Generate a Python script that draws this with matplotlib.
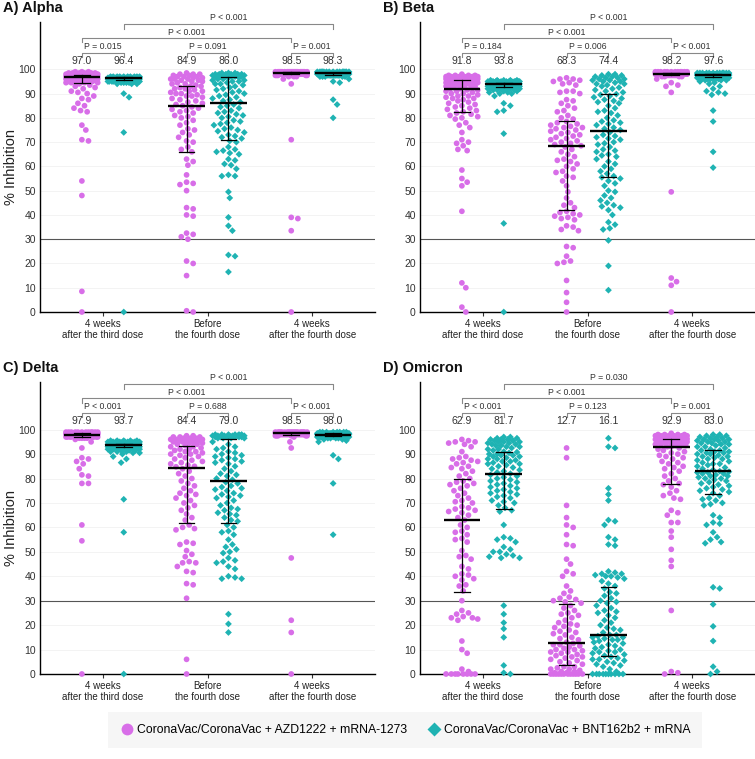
import numpy as np
import matplotlib
matplotlib.use('Agg')
import matplotlib.pyplot as plt
from matplotlib.lines import Line2D

plt.rcParams['font.family'] = ['Liberation Sans', 'DejaVu Sans']

MAG = '#d86ee8'
TEAL = '#1fb3b3'

timepoints = ['4 weeks\nafter the third dose', 'Before\nthe fourth dose', '4 weeks\nafter the fourth dose']
panel_titles = ['A) Alpha', 'B) Beta', 'C) Delta', 'D) Omicron']
legend_labels = ['CoronaVac/CoronaVac + AZD1222 + mRNA-1273', 'CoronaVac/CoronaVac + BNT162b2 + mRNA']

# ---------------- Alpha ----------------
alpha_t3_azd = ([94.5]*4 + [95]*5 + [95.5]*5 + [96]*7 + [96.5]*8 + [97]*10 + [97.5]*12 + [98]*12 + [98.5]*6 + [99]*3 +
                [94, 93.5, 93, 92.5, 92, 91, 90.5, 90, 89, 88, 87.5, 86, 85, 84, 83, 82.5, 77, 75, 71, 70.5, 54, 48, 8.5, 0])
alpha_t3_bnt = ([97]*10 + [96.5]*25 + [96]*25 + [95.5]*15 + [95]*8 + [94.5]*4 + [94]*3 + [90, 88.5, 74, 0])
alpha_pre_azd = [63, 62, 60.5, 56.5, 53.5, 53, 52.5, 50, 43, 42.5, 40, 39.5, 32.5, 32, 31, 30, 21, 20, 15, 0.5, 0,
                 66, 67, 68, 70, 70.5, 72, 73, 74, 75, 75.5, 77, 78, 79, 80, 80.5, 81, 82, 82.5, 83, 83.5, 84, 84.5,
                 85, 85.5, 86, 86.5, 87, 87.5, 88, 88.5, 89, 89, 89.5, 90, 90, 90.5, 91, 91, 91.5, 92, 92, 92.5, 93, 93,
                 93.5, 94, 94, 94.5, 95, 95, 95.5, 95.5, 96, 96, 96, 96.5, 96.5, 97, 97, 97, 97.5, 97.5, 98, 98, 98, 98.5]
alpha_pre_bnt = ([70.5, 70, 68, 67, 66.5, 66, 65.5, 65, 63, 62.5, 61, 60.5, 59, 56.5, 56, 56, 49.5, 47, 39, 35.5, 33.5, 23.5, 23, 16.5,
                  71.5, 72, 72.5, 73, 74, 74.5, 75, 75.5, 76, 77, 77.5, 78, 78.5, 79, 80, 80.5, 81, 81.5, 82, 82.5, 83, 84, 84.5, 85, 85.5,
                  86.5, 87, 87.5, 88, 88.5, 89, 89.5, 90, 90.5, 91, 91.5, 92, 92.5, 93, 93.5, 94, 94, 94.5, 95, 95, 95.5, 95.5, 96, 96, 96.5] +
                 [97]*8 + [97.5]*8 + [98]*6 + [98.5]*3)
alpha_t4_azd = [99]*20 + [98.5]*35 + [98]*20 + [97.5]*6 + [97]*3 + [96, 94, 71, 39, 38.5, 33.5, 0]
alpha_t4_bnt = [99]*15 + [98.5]*35 + [98]*25 + [97.5]*10 + [97]*5 + [96, 95, 94.5, 87.5, 85.5, 80]

# ---------------- Beta ----------------
beta_t3_azd = ([82, 81.5, 81, 80.5, 80, 79.5, 78, 77, 76, 74, 71, 70, 69.5, 68.5, 67, 66.5, 58.5, 55, 53.5, 52, 41.5, 12, 10, 2, 0,
                82.5, 83, 83.5, 84, 84.5, 85, 85.5, 86, 86.5, 87, 87.5, 88, 88, 88.5, 89, 89, 89.5, 90, 90, 90.5, 91, 91, 91.5, 91.5,
                92, 92, 92.5, 92.5, 93, 93, 93, 93.5, 93.5, 94, 94, 94, 94.5, 94.5, 94.5, 95, 95, 95, 95.5, 95.5, 95.5, 95.5, 95.6, 95.6] +
               [96]*7 + [96.5]*6 + [97]*6 + [97.5]*4 + [98])
beta_t3_bnt = ([95.5]*5 + [95]*13 + [94.5]*16 + [94]*16 + [93.5]*11 + [93]*9 + [92.5]*7 + [92]*5 + [91.5]*3 + [91]*2 + [90.5]*2 + [90]*2 +
               [89, 86, 85, 83, 82.5, 73.5, 36.5, 0])
beta_pre_azd = [41.5, 41, 40.5, 40, 39.5, 39, 38.5, 38, 35.5, 35, 34, 33.5, 27, 26.5, 23, 21, 20.5, 20, 13, 8, 4, 0,
                43, 44, 45, 47, 49.5, 52, 54, 55.5, 56, 57.5, 58, 59, 60, 61, 62, 62.5, 63, 64, 65, 66, 67, 68,
                68.5, 69, 69.5, 70, 70.5, 71, 71.5, 72, 72.5, 73, 73.5, 74, 74.5, 75, 75.5, 76, 76, 76.5, 77, 77.5, 78, 78.5,
                79.5, 80, 81, 82.5, 83, 84, 85, 86, 87, 87.5, 90, 90.5, 91, 91, 93.5, 94, 94.5, 95, 95.5, 96, 96, 96.5]
beta_pre_bnt = [55.5, 55, 54, 53, 52, 50, 49.5, 48, 47, 46, 45, 44, 43.5, 43, 42, 40, 37, 36, 34.5, 34, 29.5, 19, 9,
                56, 57, 58, 59, 60, 61, 62, 63, 64, 64.5, 65, 66, 66.5, 67, 68, 69, 69.5, 70, 71, 71.5, 72, 72.5, 73, 74,
                75, 75.5, 76, 77, 77.5, 78, 78.5, 79, 80, 81, 82, 82.5, 83, 84, 85, 86, 86.5, 87, 87.5, 88, 88.5, 89, 89.5, 89.8,
                90.5, 91, 91.5, 92, 92.5, 93, 93.5, 94, 94, 94.5, 95, 95, 95.5, 95.5, 96, 96, 96.5, 96.5, 97, 97, 97.5, 97.5, 98, 98]
beta_t4_azd = [99]*12 + [98.5]*30 + [98]*30 + [97.5]*8 + [97]*4 + [96, 94.5, 93.5, 93, 90.5, 49.5, 14, 12.5, 11, 0]
beta_t4_bnt = ([98.5]*12 + [98]*28 + [97.5]*25 + [97]*15 + [96.5]*8 + [96]*5 + [95.5]*3 +
               [95, 94.5, 94, 93, 92, 91, 90.5, 90, 89.5, 83, 78.5, 66, 59.5])

# ---------------- Delta ----------------
delta_t3_azd = ([99]*12 + [98.5]*25 + [98]*25 + [97.5]*15 + [97]*8 + [96.5]*4 +
                [96, 95, 92.5, 88.5, 88, 87, 86, 84, 81.5, 81, 78, 78, 61, 54.5, 0])
delta_t3_bnt = ([95.5]*5 + [95]*12 + [94.5]*18 + [94]*20 + [93.5]*16 + [93]*12 + [92.5]*8 + [92]*5 + [91.5]*3 + [91]*3 + [90.5]*2 +
                [90, 89, 88, 86.5, 71.5, 58, 0])
delta_pre_azd = [61, 60, 59.5, 59, 54, 53.5, 53, 50.5, 49, 48, 46, 45.5, 45.5, 44, 42, 41.5, 37, 36.5, 31, 6, 0,
                 63, 64, 65.5, 67, 68, 69, 70, 71, 72, 73, 73.5, 74, 75, 76, 77, 78, 79, 80, 81, 82, 83, 84,
                 84.8, 85, 85.5, 86, 86.5, 87, 87.5, 88, 88.5, 89, 89.5, 90, 90, 90.5, 91, 91, 91.5, 92, 92, 92.5, 93, 93,
                 93.5, 94, 94, 94.5, 94.5, 95, 95, 95, 95.5, 95.5, 95.5, 96, 96, 96, 96.5, 96.5, 96.5, 97, 97, 97, 97.5, 97.5]
delta_pre_bnt = ([61, 60, 58.5, 58, 57, 55, 53, 52, 51, 50, 49.5, 47.5, 46.5, 46, 45.5, 44, 43, 40, 39.5, 39, 39, 24.5, 20.5, 17,
                  62.5, 63, 64, 65, 65.5, 66, 67, 67.5, 68, 69, 70, 71, 72, 72.5, 73, 73.5, 74, 75, 75.5, 76, 76.5, 77, 78, 78.5,
                  79.5, 80, 81, 81.5, 82, 83, 84, 85, 86, 86.5, 87, 87.5, 88, 88.5, 89, 89.5, 90, 90.5, 91, 92, 92.5, 93, 94, 95] +
                 [96.5]*4 + [97]*6 + [97.5]*8 + [98]*6)
delta_t4_azd = [99]*20 + [98.5]*35 + [98]*20 + [97.5]*6 + [97, 95, 92.5, 47.5, 22, 17, 0]
delta_t4_bnt = [99]*8 + [98.5]*25 + [98]*30 + [97.5]*18 + [97]*8 + [96.5]*4 + [96]*2 + [95.5, 95, 89.5, 88, 78, 57]

# ---------------- Omicron ----------------
omi_t3_azd = [30, 26, 25, 24.5, 23.5, 23, 23, 22.5, 22, 13.5, 10, 8.5, 2, 1, 0, 0, 0, 0, 0, 0, 0, 0,
              34, 36, 36.5, 38.5, 39, 40, 40.5, 41, 43, 44, 47, 48, 48.5, 50.5, 54, 55, 55.5, 57, 58, 58.5, 60, 61,
              63, 64, 65, 66, 66.5, 67, 67.5, 68, 68.5, 70, 70.5, 71, 72, 73, 74, 75, 76, 77, 77.5, 78, 78.5, 79,
              80, 81, 82, 83, 84, 84.5, 85, 86, 86.5, 87, 87.5, 88, 88.5, 89, 91, 93, 94, 94.5, 95, 95, 95.5, 96]
omi_t3_bnt = [67, 66.5, 61, 56, 55.5, 55, 54, 52, 51, 50, 50, 49, 48.5, 48, 47.5, 47.5, 28, 24.5, 21, 18.5, 15, 3.5, 0.5, 0,
              68, 69, 70, 70.5, 71, 72, 72.5, 73, 73.5, 74, 74.5, 75, 75.5, 76, 76.5, 77, 77.5, 78, 78.5, 79, 79.5, 80, 80.5, 81, 81.5,
              82, 82.5, 83, 83.5, 84, 84.5, 85, 85.5, 86, 86, 86.5, 87, 87, 87.5, 88, 88, 88.5, 89, 89, 89.5, 89.5, 90, 90, 90.5, 90.8,
              91, 91.5, 92, 92, 92.5, 93, 93, 93.5, 93.5, 94, 94, 94.5, 94.5, 95, 95, 95, 95.5, 95.5, 96, 96, 96, 96.5, 96.5, 97, 97]
omi_pre_azd = ([29, 29.5, 30, 30.5, 31, 31.5, 33, 34, 36, 40, 41, 42, 45, 47, 52.5, 53, 57, 60, 61, 64, 69, 88.5, 92.5,
                13, 14, 14.5, 15, 16, 16.5, 17, 17.5, 18, 19, 19.5, 20, 20.5, 21, 22, 23, 24, 24.5, 25, 26, 27, 28,
                4, 4.5, 5, 5.5, 6, 6.5, 7, 7, 7.5, 8, 8.5, 9, 9, 9.5, 10, 10, 10.5, 11, 11.5, 12, 12, 12.5] +
               [0]*12 + [0.5, 0.5, 1, 1, 1.5, 2, 2, 2.5, 3, 3])
omi_pre_bnt = ([36, 37, 38, 39, 39.5, 40, 40, 40.5, 41, 41, 41.5, 42, 52.5, 53, 55, 56, 61, 62.5, 63, 71, 73.5, 76, 92.5, 93, 96.5,
                17, 18, 18.5, 19, 20, 21, 22, 23, 24, 25, 25.5, 26, 27, 28, 29, 29.5, 30, 31, 32, 33, 33.5, 35,
                7.5, 8, 8.5, 9, 9, 9.5, 10, 10.5, 11, 11.5, 12, 12.5, 13, 13.5, 14, 14, 14.5, 15, 15, 15.5, 16, 16] +
               [0]*10 + [1, 2, 3, 3.5, 4, 4.5, 5, 5.5, 6, 6, 6.5, 7])
omi_t4_azd = ([77.5, 76.5, 75, 74, 73, 72, 71.5, 67, 66, 65, 62, 62, 58.5, 56, 51, 46.5, 44, 26, 1, 0.5, 0,
               78, 79, 80, 81, 82, 83, 84, 84.5, 85, 86, 86.5, 87, 88, 88.5, 89, 89.5, 90, 90.5, 91, 91.5, 92, 92.5,
               93, 93, 93.5, 93.5, 94, 94, 94, 94.5, 94.5, 94.5, 95, 95, 95, 95, 95.5, 95.5, 95.5, 96, 96, 96, 96, 96.2] +
              [96.5]*5 + [97]*6 + [97.5]*6 + [98]*4 + [98.5])
omi_t4_bnt = [73, 72, 71.5, 71, 70, 69.5, 69, 65, 64, 62, 61.5, 61, 58, 56, 55, 54, 53.5, 35.5, 35, 28.5, 19.5, 13.5, 3, 1, 0,
              74, 74.5, 75, 75.5, 76, 76.5, 77, 77.5, 78, 78.5, 79, 79.5, 80, 80, 80.5, 81, 81, 81.5, 82, 82, 82.5, 82.5, 82.8, 83,
              83.5, 84, 84.5, 85, 85.5, 86, 86, 86.5, 87, 87.5, 88, 88, 88.5, 89, 89, 89.5, 90, 90, 90.5, 90.5, 91, 91, 91.5, 91.5,
              92, 92.5, 93, 93, 93.5, 94, 94, 94.5, 94.5, 95, 95, 95.5, 95.5, 96, 96, 96, 96.5, 96.5, 97, 97, 97.5, 97.5, 98, 98]

# medians and interquartile ranges (order: t3 AZD, t3 BNT, pre AZD, pre BNT, t4 AZD, t4 BNT)
alpha_med = [97.0, 96.4, 84.9, 86.0, 98.5, 98.3]
alpha_q1 = [94.3, 95.8, 65.8, 71.0, 98.0, 97.8]
alpha_q3 = [97.8, 96.8, 93.2, 96.8, 98.8, 98.6]
beta_med = [91.8, 93.8, 68.3, 74.4, 98.2, 97.6]
beta_q1 = [82.3, 92.6, 42.0, 55.8, 97.8, 97.0]
beta_q3 = [95.7, 94.5, 78.7, 90.0, 98.6, 98.1]
delta_med = [97.9, 93.7, 84.4, 79.0, 98.5, 98.0]
delta_q1 = [96.8, 92.7, 62.0, 62.0, 98.0, 97.5]
delta_q3 = [98.5, 94.3, 93.2, 96.0, 98.8, 98.5]
omi_med = [62.9, 81.7, 12.7, 16.1, 92.9, 83.0]
omi_q1 = [33.7, 67.7, 3.5, 7.2, 77.8, 73.5]
omi_q3 = [79.6, 90.9, 28.8, 35.6, 96.3, 91.8]

# p-values: within-timepoint comparisons, then [third vs fourth AZD, third vs fourth BNT]
alpha_p_pair = ['P = 0.015', 'P = 0.091', 'P = 0.001']
alpha_p_long = ['P < 0.001', 'P < 0.001']
beta_p_pair = ['P = 0.184', 'P = 0.006', 'P < 0.001']
beta_p_long = ['P < 0.001', 'P < 0.001']
delta_p_pair = ['P < 0.001', 'P = 0.688', 'P < 0.001']
delta_p_long = ['P < 0.001', 'P < 0.001']
omi_p_pair = ['P < 0.001', 'P = 0.123', 'P = 0.001']
omi_p_long = ['P < 0.001', 'P = 0.030']

panels = [
    ([alpha_t3_azd, alpha_t3_bnt, alpha_pre_azd, alpha_pre_bnt, alpha_t4_azd, alpha_t4_bnt],
     alpha_med, alpha_q1, alpha_q3, alpha_p_pair, alpha_p_long),
    ([beta_t3_azd, beta_t3_bnt, beta_pre_azd, beta_pre_bnt, beta_t4_azd, beta_t4_bnt],
     beta_med, beta_q1, beta_q3, beta_p_pair, beta_p_long),
    ([delta_t3_azd, delta_t3_bnt, delta_pre_azd, delta_pre_bnt, delta_t4_azd, delta_t4_bnt],
     delta_med, delta_q1, delta_q3, delta_p_pair, delta_p_long),
    ([omi_t3_azd, omi_t3_bnt, omi_pre_azd, omi_pre_bnt, omi_t4_azd, omi_t4_bnt],
     omi_med, omi_q1, omi_q3, omi_p_pair, omi_p_long),
]


def swarm(vals, sx, sy, d, maxw_px):
    """Beeswarm x offsets (px) for values; overlap allowed when width is capped."""
    vals = np.asarray(vals, float)
    ypx = vals * sy
    order = np.argsort(-vals, kind='stable')
    cands = np.arange(0, maxw_px + 1e-9, d / 5.0)
    cands = np.concatenate([[0.0], np.ravel(np.column_stack([cands[1:], -cands[1:]]))])
    px, py = [], []
    offs = np.zeros(len(vals))
    for i in order:
        y = ypx[i]
        x = 0.0
        if px:
            PX = np.array(px); PY = np.array(py)
            near = np.abs(PY - y) < d
            if near.any():
                dx = cands[:, None] - PX[near][None, :]
                dy = y - PY[near][None, :]
                mind = np.sqrt(dx ** 2 + dy ** 2).min(axis=1)
                ok = np.where(mind >= d * 0.92)[0]
                x = cands[ok[0]] if len(ok) else cands[np.argmax(mind)]
        offs[i] = x
        px.append(x); py.append(y)
    return offs / sx


W, H = 755, 759
fig = plt.figure(figsize=(W / 100, H / 100), dpi=100)

rects = [
    (40, 22, 335, 290), (420, 22, 335, 290),
    (40, 382, 335, 292), (420, 382, 335, 292),
]
YMAX = 119.5
XMIN, XMAX = 0.4, 3.6
centers = [0.8, 1.2, 1.8, 2.2, 2.8, 3.2]

for k, (rx, ry, rw, rh) in enumerate(rects):
    ax = fig.add_axes([rx / W, 1 - (ry + rh) / H, rw / W, rh / H])
    groups, med, q1, q3, p_pair, p_long = panels[k]
    ax.set_xlim(XMIN, XMAX)
    ax.set_ylim(0, YMAX)
    sx = rw / (XMAX - XMIN)
    sy = rh / YMAX
    for y in range(10, 101, 10):
        ax.axhline(y, color='#f1f1f1', lw=0.6, zorder=0)
    ax.axhline(30, color='#555555', lw=0.8, zorder=1)
    for j, vals in enumerate(groups):
        offs = swarm(vals, sx, sy, 6.6, 16.5)
        col = MAG if j % 2 == 0 else TEAL
        mk = 'o' if j % 2 == 0 else 'D'
        ss = 17 if j % 2 == 0 else 12
        ax.scatter(centers[j] + offs, vals, s=ss, marker=mk, color=col, edgecolors='none',
                   zorder=3, clip_on=False)
        c = centers[j]
        ax.plot([c - 0.175, c + 0.175], [med[j], med[j]], color='black', lw=1.7, zorder=5, solid_capstyle='butt')
        ax.plot([c, c], [q1[j], q3[j]], color='black', lw=0.9, zorder=5)
        for qq in (q1[j], q3[j]):
            ax.plot([c - 0.075, c + 0.075], [qq, qq], color='black', lw=0.9, zorder=5)
        ax.text(c, 103.4, f'{med[j]:.1f}', ha='center', va='center', fontsize=7.5, color='#333333')
    # brackets
    bc = '#888888'
    drop = 1.8

    def bracket(x0, x1, y, label, ty):
        ax.plot([x0, x0, x1, x1], [y - drop, y, y, y - drop], color=bc, lw=0.8, clip_on=False, zorder=2)
        ax.text((x0 + x1) / 2, ty, label, ha='center', va='center', fontsize=6.3, color='#333333', clip_on=False)

    for t in range(3):
        bracket(centers[2 * t], centers[2 * t + 1], 106.8, p_pair[t], 109.6)
    bracket(0.8, 2.8, 112.9, p_long[0], 115.3)
    bracket(1.2, 3.2, 118.6, p_long[1], 121.4)

    ax.set_yticks(range(0, 101, 10))
    ax.set_xticks([1, 2, 3])
    ax.set_xticklabels(timepoints, fontsize=7, color='#222222', linespacing=1.15)
    ax.tick_params(axis='y', labelsize=7.5, colors='#333333', length=0, pad=3)
    ax.tick_params(axis='x', length=3, width=0.8, pad=2, colors='#333333')
    for lab in ax.get_xticklabels():
        lab.set_color('#222222')
    for sp in ('top', 'right'):
        ax.spines[sp].set_visible(False)
    ax.spines['left'].set_linewidth(1.0)
    ax.spines['bottom'].set_linewidth(1.0)
    ax.spines['left'].set_color('black')
    ax.spines['bottom'].set_color('black')
    if k % 2 == 0:
        fig.text(11 / W, 1 - (ry + rh / 2) / H, '% Inhibition', rotation=90, fontsize=10.5,
                 color='#222222', ha='center', va='center')
    fig.text((rx - 37) / W, 1 - (ry - 14) / H, panel_titles[k], fontsize=10.5, fontweight='bold',
             ha='left', va='center', color='#111111')

handles = [Line2D([], [], marker='o', color='none', markerfacecolor=MAG, markeredgecolor='none', markersize=8.5),
           Line2D([], [], marker='D', color='none', markerfacecolor=TEAL, markeredgecolor='none', markersize=7)]
leg = fig.legend(handles, legend_labels, loc='center', bbox_to_anchor=(405 / W, 1 - 730 / H), ncol=2,
                 frameon=True, fancybox=False, facecolor='#f4f4f4', edgecolor='#f4f4f4', fontsize=8.8,
                 handletextpad=0.2, columnspacing=1.6, borderpad=1.0, handlelength=1.2)
leg.get_frame().set_linewidth(0)

fig.savefig('out.png', dpi=100)
